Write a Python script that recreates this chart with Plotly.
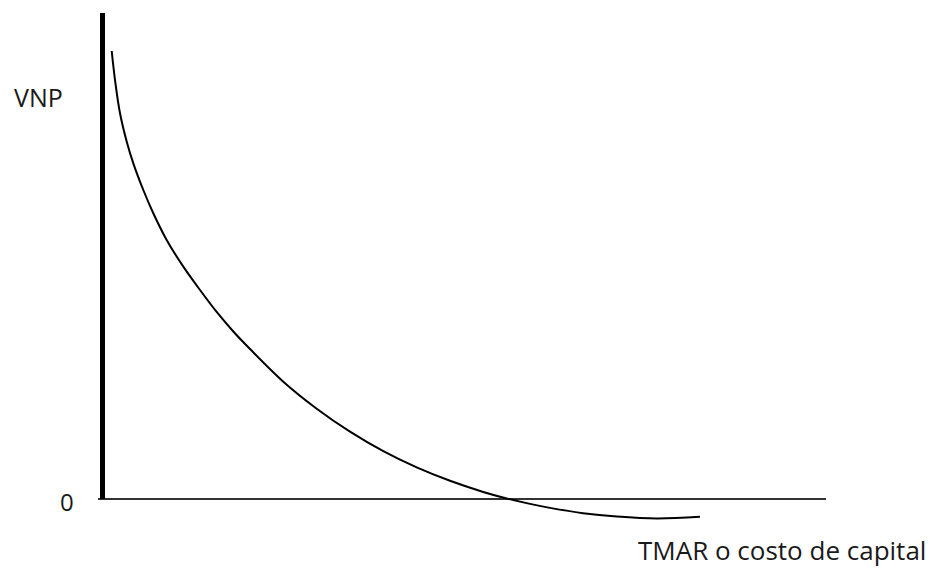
import plotly.graph_objects as go

# Curve (x: TMAR / cost of capital, y: VNP), arbitrary units
tmar = [1.27, 1.73, 2.42, 3.34, 4.26, 5.64, 7.02, 8.87, 11.17, 13.48, 15.78,
        18.08, 20.39, 24.99, 29.61, 34.21, 38.81, 43.43, 48.03, 52.63, 55.87,
        59.09, 61.85, 66.41, 71.11, 76.64, 82.58]
vnp = [92.18, 86.21, 79.36, 73.56, 69.07, 63.58, 58.79, 53.29, 47.80, 43.00, 38.48,
       34.47, 30.86, 24.14, 18.58, 13.85, 9.84, 6.50, 3.74, 1.44, 0.10,
       -1.01, -1.83, -2.92, -3.62, -4.03, -3.68]

y_label = "VNP"
x_label = "TMAR o costo de capital"
zero_label = "0"

FONT = "Open Sans"

fig = go.Figure()
fig.add_trace(go.Scatter(
    x=tmar, y=vnp, mode="lines",
    line=dict(color="black", width=2, shape="spline", smoothing=1.0),
    hoverinfo="skip", showlegend=False,
))

# vertical (VNP) axis line
fig.add_shape(type="line", xref="x", yref="y", x0=0, x1=0, y0=0, y1=100,
              line=dict(color="black", width=5), layer="above")

fig.update_layout(
    width=930, height=571,
    margin=dict(l=98, r=104, t=13, b=31),
    paper_bgcolor="white", plot_bgcolor="white",
    xaxis=dict(range=[-0.622, 100], showgrid=False, zeroline=False,
               showline=False, showticklabels=False, ticks=""),
    yaxis=dict(range=[-8.44, 100], showgrid=False, zeroline=True,
               zerolinecolor="#333333", zerolinewidth=2,
               showline=False, showticklabels=False, ticks=""),
    annotations=[
        dict(text=y_label, xref="paper", yref="paper", x=-0.0824, y=0.8406,
             xanchor="center", yanchor="middle", showarrow=False,
             font=dict(family=FONT, size=25, color="#1a1a1a")),
        dict(text=zero_label, xref="paper", yref="y", x=-0.0426, y=0, yshift=-3,
             xanchor="center", yanchor="middle", showarrow=False,
             font=dict(family=FONT, size=24, color="#1a1a1a")),
        dict(text=x_label, xref="paper", yref="paper", x=1.1400, y=-0.0575,
             xanchor="right", yanchor="bottom", showarrow=False,
             font=dict(family=FONT, size=26, color="#1a1a1a")),
    ],
)

fig.write_html("out.html", config={"displayModeBar": False},
               post_script="document.body.style.margin='0';")
